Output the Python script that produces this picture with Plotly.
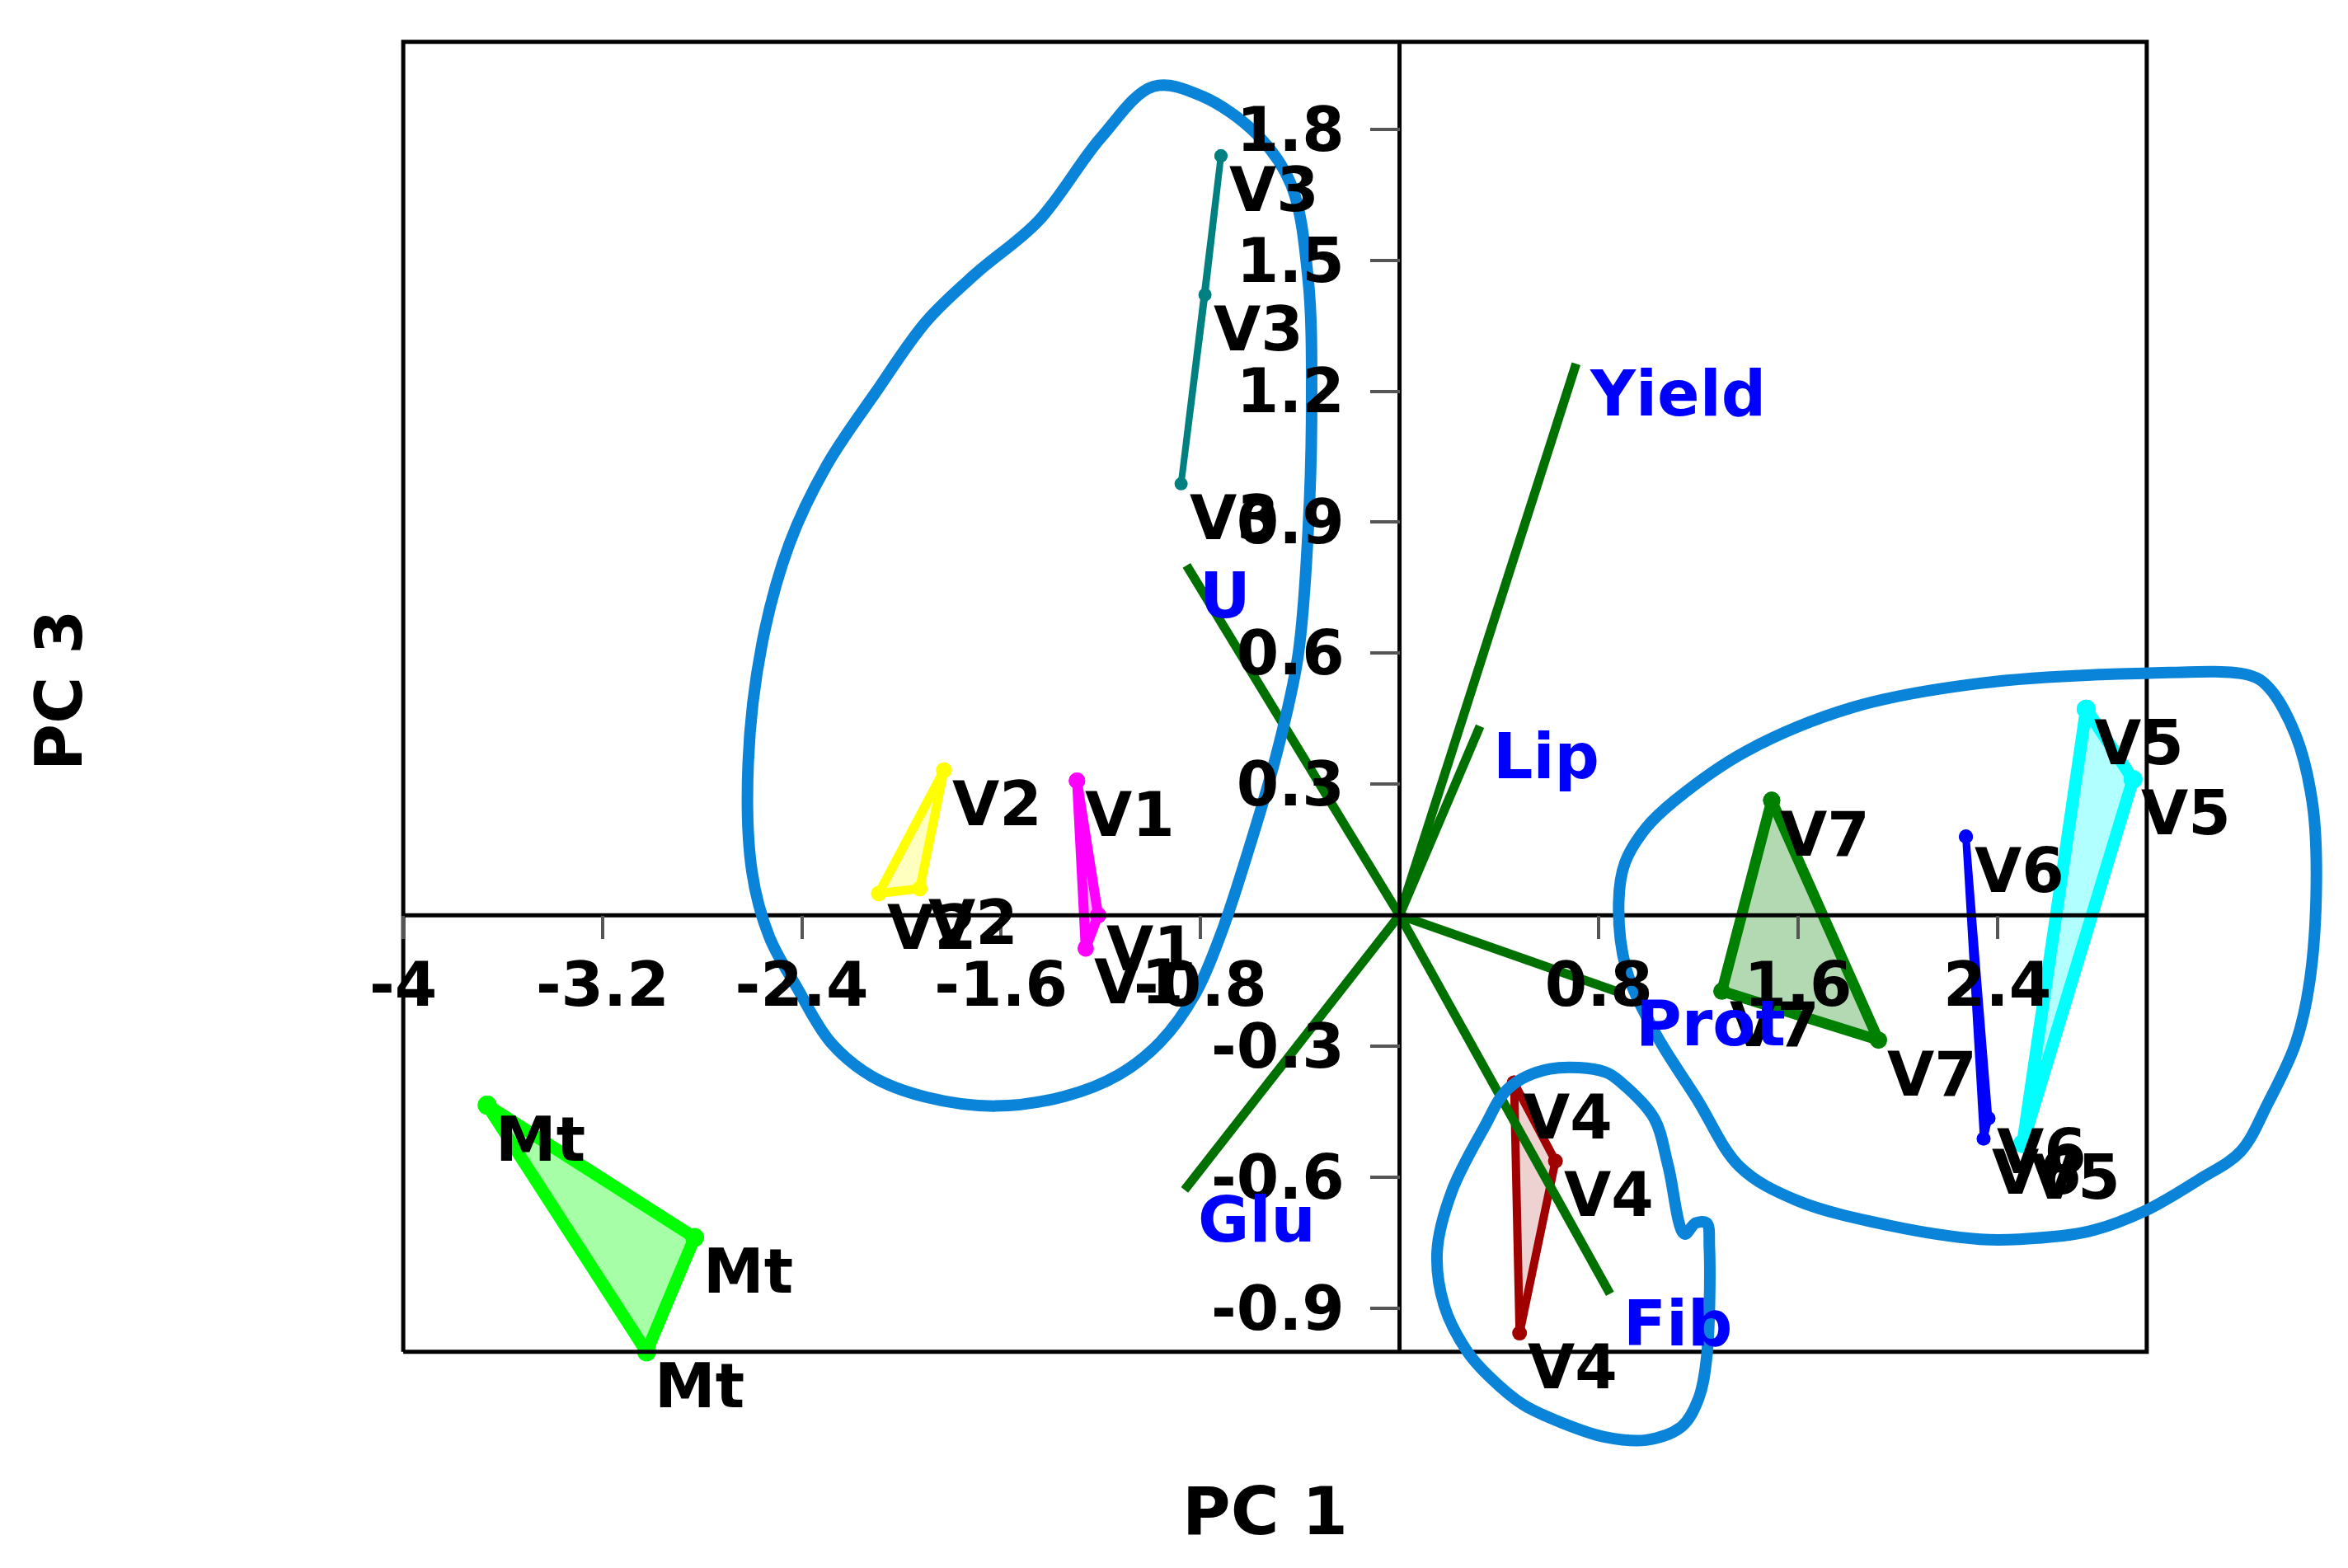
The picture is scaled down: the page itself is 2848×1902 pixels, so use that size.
import plotly.graph_objects as go

# ---------------- data ----------------
# sample scores (PC1, PC3), three replicates per group
mt_x = [-3.663, -2.830, -3.023]
mt_y = [-0.435, -0.738, -1.000]
v1_x = [-1.295, -1.210, -1.260]
v1_y = [0.308, 0.000, -0.076]
v2_x = [-1.829, -2.091, -1.926]
v2_y = [0.332, 0.050, 0.061]
v3_x = [-0.717, -0.781, -0.877]
v3_y = [1.739, 1.421, 0.988]
v4_x = [0.460, 0.626, 0.482]
v4_y = [-0.384, -0.563, -0.957]
v5_x = [2.757, 2.945, 2.502]
v5_y = [0.472, 0.311, -0.523]
v6_x = [2.274, 2.365, 2.345]
v6_y = [0.180, -0.465, -0.512]
v7_x = [1.494, 1.294, 1.923]
v7_y = [0.263, -0.174, -0.286]

# variable loadings (biplot vectors)
var_names = ["Yield", "Lip", "U", "Glu", "Fib", "Prot"]
var_x = [0.709, 0.323, -0.855, -0.863, 0.845, 0.894]
var_y = [1.263, 0.433, 0.801, -0.629, -0.867, -0.179]

# axis ticks
x_ticks = [-4, -3.2, -2.4, -1.6, -0.8, 0.8, 1.6, 2.4]
x_tick_labels = ["-4", "-3.2", "-2.4", "-1.6", "-0.8", "0.8", "1.6", "2.4"]
y_ticks = [-0.9, -0.6, -0.3, 0.3, 0.6, 0.9, 1.2, 1.5, 1.8]
y_tick_labels = ["-0.9", "-0.6", "-0.3", "0.3", "0.6", "0.9", "1.2", "1.5", "1.8"]

# plot frame (data extent)
frame_x = [-4.0, 3.0]
frame_y = [-1.0, 2.0]

# hand-drawn grouping loops (outline points in PC1/PC3 units)
loop1_x = [-0.988, -0.794, -0.574, -0.436, -0.367, -0.353, -0.367, -0.408, -0.491, -0.601,
           -0.715, -0.820, -0.960, -1.126, -1.346, -1.622, -1.898, -2.119, -2.284, -2.420,
           -2.530, -2.600, -2.615, -2.560, -2.450, -2.300, -2.100, -1.900, -1.700,
           -1.450, -1.200, -0.988]
loop1_y = [1.898, 1.876, 1.789, 1.674, 1.457, 1.169, 0.880, 0.592, 0.375, 0.159,
           -0.040, -0.180, -0.290, -0.365, -0.415, -0.437, -0.417, -0.369, -0.291, -0.165,
           -0.050, 0.100, 0.350, 0.620, 0.850, 1.030, 1.200, 1.360, 1.470,
           1.590, 1.780, 1.898]
loop2_x = [0.880, 0.905, 0.990, 1.110, 1.390, 1.820, 2.330, 2.990, 3.410, 3.487, 3.598,
           3.665, 3.681, 3.653, 3.598, 3.487, 3.377, 3.211, 2.990, 2.768, 2.490, 2.330,
           1.970, 1.594, 1.366, 1.194, 1.023, 0.909, 0.880]
loop2_y = [0.030, 0.120, 0.200, 0.265, 0.375, 0.476, 0.531, 0.554, 0.550, 0.523, 0.412,
           0.257, 0.074, -0.156, -0.293, -0.430, -0.541, -0.605, -0.678, -0.724, -0.742, -0.742,
           -0.711, -0.653, -0.576, -0.421, -0.266, -0.121, 0.030]
loop3_x = [0.604, 0.825, 0.891, 1.023, 1.078, 1.144, 1.189, 1.233, 1.244, 1.233, 1.200,
           1.133, 0.990, 0.825, 0.659, 0.494, 0.361, 0.273, 0.180, 0.151, 0.209, 0.337,
           0.438, 0.604]
loop3_y = [-0.352, -0.359, -0.384, -0.466, -0.573, -0.730, -0.705, -0.705, -0.761, -1.013, -1.108,
           -1.171, -1.202, -1.195, -1.164, -1.120, -1.057, -1.000, -0.895, -0.770, -0.634, -0.489,
           -0.396, -0.352]

# ---------------- styles ----------------
FONT = "DejaVu Sans"
groups = [
    ("V3", v3_x, v3_y, "#008080", "rgba(0,128,128,0.3)", 8),
    ("V2", v2_x, v2_y, "#FFFF00", "rgba(255,255,0,0.25)", 11),
    ("V1", v1_x, v1_y, "#FF00FF", "rgba(255,0,255,0.3)", 12),
    ("Mt", mt_x, mt_y, "#00FF00", "rgba(0,255,0,0.35)", 15),
    ("V4", v4_x, v4_y, "#A00000", "rgba(160,0,0,0.18)", 10),
    ("V7", v7_x, v7_y, "#008000", "rgba(0,128,0,0.3)", 13),
    ("V6", v6_x, v6_y, "#0000FF", "rgba(0,0,255,0.3)", 9),
    ("V5", v5_x, v5_y, "#00FFFF", "rgba(0,255,255,0.3)", 15),
]
VEC_COLOR = "#007000"
LOOP_COLOR = "#0A84D8"

# axis ranges chosen so the frame sits where it does in the 2848x1902 picture
X_RANGE = [-5.619, 3.808]
Y_RANGE = [-1.495, 2.096]

fig = go.Figure()

# convex hulls of each group
for name, gx, gy, col, fcol, lw in groups:
    fig.add_trace(go.Scatter(
        x=gx + gx[:1], y=gy + gy[:1], mode="lines+markers",
        fill="toself", fillcolor=fcol,
        line=dict(color=col, width=lw),
        marker=dict(color=col, size=lw + 8),
        hoverinfo="skip", showlegend=False))

# biplot vectors
for nm, vx, vy in zip(var_names, var_x, var_y):
    fig.add_trace(go.Scatter(
        x=[0, vx], y=[0, vy], mode="lines",
        line=dict(color=VEC_COLOR, width=11),
        hoverinfo="skip", showlegend=False))

# frame and zero lines
fig.add_trace(go.Scatter(
    x=[frame_x[0], frame_x[1], frame_x[1], frame_x[0], frame_x[0]],
    y=[frame_y[0], frame_y[0], frame_y[1], frame_y[1], frame_y[0]],
    mode="lines", line=dict(color="black", width=5),
    hoverinfo="skip", showlegend=False))
fig.add_trace(go.Scatter(x=frame_x, y=[0, 0], mode="lines",
                         line=dict(color="black", width=5),
                         hoverinfo="skip", showlegend=False))
fig.add_trace(go.Scatter(x=[0, 0], y=frame_y, mode="lines",
                         line=dict(color="black", width=5),
                         hoverinfo="skip", showlegend=False))

# hand-drawn loops
for lx, ly in [(loop1_x, loop1_y), (loop2_x, loop2_y), (loop3_x, loop3_y)]:
    fig.add_trace(go.Scatter(
        x=lx, y=ly, mode="lines", line=dict(color=LOOP_COLOR, width=14, shape="spline"),
        hoverinfo="skip", showlegend=False))

annotations = []
label_font = dict(family=FONT, size=74, color="black", weight="bold")
for name, gx, gy, col, fcol, lw in groups:
    for px, py in zip(gx, gy):
        annotations.append(dict(x=px, y=py, text=name, showarrow=False,
                                xanchor="left", yanchor="top", xshift=8, yshift=4,
                                font=label_font))
for nm, vx, vy in zip(var_names, var_x, var_y):
    annotations.append(dict(x=vx, y=vy, text=nm, showarrow=False,
                            xanchor="left", yanchor="top", xshift=14, yshift=10,
                            font=dict(family=FONT, size=76, color="#0000FF", weight="bold")))

# axis titles
annotations.append(dict(x=-0.54, y=-1.365, text="PC 1", showarrow=False,
                        xanchor="center", yanchor="middle",
                        font=dict(family=FONT, size=80, color="black", weight="bold")))
annotations.append(dict(x=-5.378, y=0.515, text="PC 3", showarrow=False, textangle=-90,
                        xanchor="center", yanchor="middle",
                        font=dict(family=FONT, size=78, color="black", weight="bold")))

tick_font = dict(family=FONT, size=74, color="black", weight="bold")
x_pos = (0 - Y_RANGE[0]) / (Y_RANGE[1] - Y_RANGE[0])
y_pos = (0 - X_RANGE[0]) / (X_RANGE[1] - X_RANGE[0])

fig.update_layout(
    width=2848, height=1902,
    margin=dict(l=0, r=0, t=0, b=0),
    paper_bgcolor="white", plot_bgcolor="white",
    showlegend=False,
    annotations=annotations,
    xaxis=dict(range=X_RANGE, domain=[0, 1], anchor="free", position=x_pos,
               showgrid=False, zeroline=False, showline=False,
               tickmode="array", tickvals=x_ticks, ticktext=x_tick_labels,
               ticks="outside", ticklen=28, tickwidth=4, tickcolor="#555555",
               tickfont=tick_font, ticklabelstandoff=-8, fixedrange=True),
    yaxis=dict(range=Y_RANGE, domain=[0, 1], anchor="free", position=y_pos,
               showgrid=False, zeroline=False, showline=False,
               tickmode="array", tickvals=y_ticks, ticktext=y_tick_labels,
               ticks="outside", ticklen=36, tickwidth=4, tickcolor="#555555",
               tickfont=tick_font, ticklabelstandoff=16, fixedrange=True),
)

fig.write_html("out.html", config={"displayModeBar": False},
               post_script="document.body.style.margin='0';document.body.style.overflow='hidden';")
